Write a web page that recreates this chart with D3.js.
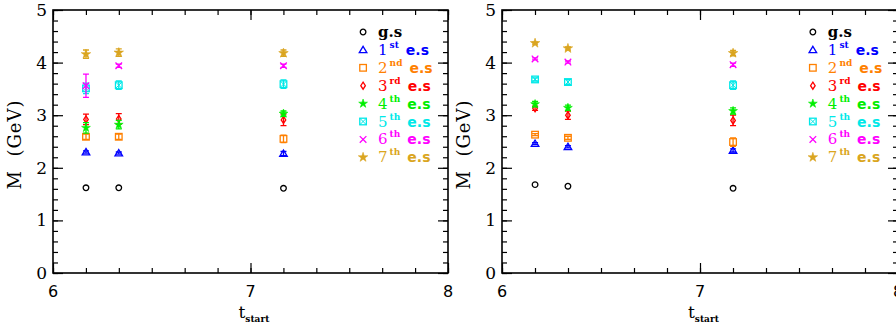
<!DOCTYPE html>
<html>
<head>
<meta charset="utf-8">
<script src="https://cdn.jsdelivr.net/npm/d3@7"></script>
<style>
  html, body { margin: 0; padding: 0; background: #fff; }
  svg { display: block; }
</style>
</head>
<body>
<svg id="chart" width="896" height="329"></svg>
<script>
// Starting time slices of the fits
const tStart = [6.167, 6.333, 7.167];

// State labels (ordinal part, superscript) and colours
const stateNum = ["g.s", "1", "2", "3", "4", "5", "6", "7"];
const stateSup = ["", "st", "nd", "rd", "th", "th", "th", "th"];
const stateColor = ["#000000", "#0000ff", "#ff8000", "#ff0000", "#00ee00", "#00e8e8", "#ff00ff", "#daa520"];

// Left panel: fitted masses (GeV), one row per state, one column per t_start
const massLeft = [
  [1.62, 1.62, 1.61],
  [2.30, 2.28, 2.27],
  [2.59, 2.59, 2.55],
  [2.92, 2.93, 2.91],
  [2.76, 2.82, 3.03],
  [3.51, 3.57, 3.59],
  [3.56, 3.94, 3.94],
  [4.16, 4.19, 4.18]
];
const errLeft = [
  [0.01, 0.01, 0.01],
  [0.02, 0.02, 0.04],
  [0.05, 0.05, 0.07],
  [0.10, 0.10, 0.11],
  [0.10, 0.08, 0.05],
  [0.10, 0.08, 0.08],
  [0.22, 0.03, 0.03],
  [0.08, 0.07, 0.06]
];

// Right panel
const massRight = [
  [1.68, 1.65, 1.61],
  [2.46, 2.40, 2.33],
  [2.63, 2.57, 2.49],
  [3.13, 3.00, 2.90],
  [3.21, 3.14, 3.08],
  [3.68, 3.63, 3.57],
  [4.07, 4.01, 3.96],
  [4.37, 4.27, 4.18]
];
const errRight = [
  [0.01, 0.01, 0.01],
  [0.02, 0.02, 0.03],
  [0.02, 0.03, 0.08],
  [0.04, 0.08, 0.10],
  [0.05, 0.05, 0.06],
  [0.03, 0.05, 0.08],
  [0.02, 0.02, 0.03],
  [0.02, 0.03, 0.05]
];

// Axis ticks
const xMajor = [6, 7, 8];
const xMinor = d3.range(0, 13).map(i => 6 + i / 6);
const yMajor = [0, 1, 2, 3, 4, 5];
const yMinor = d3.range(0, 26).map(i => i * 0.2);

const svg = d3.select("#chart");

// Marker shapes, one per state
function drawMarker(g, k, color) {
  const s = g.append("g");
  const sw = 1.3;
  switch (k) {
    case 0:
      s.append("circle").attr("r", 2.8).attr("fill", "none").attr("stroke", color).attr("stroke-width", sw);
      break;
    case 1:
      s.append("path").attr("d", "M0,-3.6L3.8,2.8L-3.8,2.8Z").attr("fill", "none").attr("stroke", color).attr("stroke-width", sw);
      break;
    case 2:
      s.append("rect").attr("x", -3.3).attr("y", -3.3).attr("width", 6.6).attr("height", 6.6)
        .attr("fill", "none").attr("stroke", color).attr("stroke-width", sw);
      break;
    case 3:
      s.append("path").attr("d", "M0,-3.5L2.3,0L0,3.5L-2.3,0Z").attr("fill", "none").attr("stroke", color).attr("stroke-width", sw);
      break;
    case 4:
      s.append("path").attr("d", d3.symbol(d3.symbolStar, 24)()).attr("fill", color).attr("stroke", color).attr("stroke-width", 0.6);
      break;
    case 5:
      s.append("rect").attr("x", -3.3).attr("y", -3.3).attr("width", 6.6).attr("height", 6.6)
        .attr("fill", "none").attr("stroke", color).attr("stroke-width", sw);
      s.append("path").attr("d", "M-3.3,-3.3L3.3,3.3M-3.3,3.3L3.3,-3.3").attr("stroke", color).attr("stroke-width", 1);
      break;
    case 6:
      s.append("path").attr("d", "M-3.3,-3.3L3.3,3.3M-3.3,3.3L3.3,-3.3").attr("stroke", color).attr("stroke-width", sw);
      break;
    case 7:
      s.append("path").attr("d", d3.symbol(d3.symbolStar, 28)()).attr("fill", color).attr("stroke", color).attr("stroke-width", 0.6);
      break;
  }
  return s;
}

function drawPanel(x0, x1, mass, err) {
  const top = 10, bottom = 273;
  const x = d3.scaleLinear().domain([6, 8]).range([x0, x1]);
  const y = d3.scaleLinear().domain([0, 5]).range([bottom, top]);
  const g = svg.append("g");

  const tickStyle = sel => {
    sel.select(".domain").remove();
    sel.selectAll(".tick line").attr("stroke", "#000").attr("stroke-width", 1.2);
  };

  // minor ticks, all four sides, pointing inward
  g.append("g").attr("transform", `translate(0,${bottom})`)
    .call(d3.axisBottom(x).tickValues(xMinor).tickSize(-5).tickFormat("")).call(tickStyle);
  g.append("g").attr("transform", `translate(0,${top})`)
    .call(d3.axisTop(x).tickValues(xMinor).tickSize(-5).tickFormat("")).call(tickStyle);
  g.append("g").attr("transform", `translate(${x0},0)`)
    .call(d3.axisLeft(y).tickValues(yMinor).tickSize(-5).tickFormat("")).call(tickStyle);
  g.append("g").attr("transform", `translate(${x1},0)`)
    .call(d3.axisRight(y).tickValues(yMinor).tickSize(-5).tickFormat("")).call(tickStyle);

  // major ticks
  g.append("g").attr("transform", `translate(0,${bottom})`)
    .call(d3.axisBottom(x).tickValues(xMajor).tickSize(-10).tickFormat("")).call(tickStyle);
  g.append("g").attr("transform", `translate(0,${top})`)
    .call(d3.axisTop(x).tickValues(xMajor).tickSize(-10).tickFormat("")).call(tickStyle);
  g.append("g").attr("transform", `translate(${x0},0)`)
    .call(d3.axisLeft(y).tickValues(yMajor).tickSize(-10).tickFormat("")).call(tickStyle);
  g.append("g").attr("transform", `translate(${x1},0)`)
    .call(d3.axisRight(y).tickValues(yMajor).tickSize(-10).tickFormat("")).call(tickStyle);

  // frame
  g.append("rect").attr("x", x0).attr("y", top).attr("width", x1 - x0).attr("height", bottom - top)
    .attr("fill", "none").attr("stroke", "#000").attr("stroke-width", 1.6);

  // tick labels
  g.selectAll(".ylab").data(yMajor).enter().append("text")
    .attr("x", x0 - 6).attr("y", d => y(d) + 6)
    .attr("text-anchor", "end")
    .attr("font-family", "DejaVu Serif").attr("font-size", 17)
    .text(d => d);
  g.selectAll(".xlab").data(xMajor).enter().append("text")
    .attr("x", d => x(d)).attr("y", bottom + 24)
    .attr("text-anchor", "middle")
    .attr("font-family", "DejaVu Sans").attr("font-size", 16)
    .text(d => d);

  // axis titles
  g.append("text")
    .attr("transform", `translate(${x0 - 32},${(top + bottom) / 2 + 3}) rotate(-90)`)
    .attr("text-anchor", "middle")
    .attr("font-family", "DejaVu Serif").attr("font-size", 18)
    .attr("letter-spacing", 1)
    .style("white-space", "pre")
    .text("M  (GeV)");
  const tt = g.append("text")
    .attr("x", x(7) - 12).attr("y", bottom + 45)
    .attr("font-family", "DejaVu Serif").attr("font-size", 17);
  tt.append("tspan").text("t");
  tt.append("tspan").attr("dy", 4).attr("font-size", 9).attr("font-weight", "bold").text("start");

  // data with error bars
  mass.forEach((row, k) => {
    const color = stateColor[k];
    row.forEach((m, i) => {
      const cx = x(tStart[i]);
      const e = err[k][i];
      const p = g.append("g").attr("transform", `translate(${cx},${y(m)})`);
      if (e > 0.015) {
        const dyTop = y(m + e) - y(m), dyBot = y(m - e) - y(m);
        p.append("path")
          .attr("d", `M0,${dyTop}L0,${dyBot}M-3,${dyTop}L3,${dyTop}M-3,${dyBot}L3,${dyBot}`)
          .attr("stroke", color).attr("stroke-width", 1.3).attr("fill", "none");
      }
      drawMarker(p, k, color);
    });
  });

  // legend: marker, ordinal with superscript, "e.s"
  const lx = x(7.57), ly0 = 32, ldy = 17.9;
  stateNum.forEach((lab, k) => {
    const color = stateColor[k];
    const yy = ly0 + k * ldy;
    drawMarker(g.append("g").attr("transform", `translate(${lx},${yy})`), k, color);
    const base = yy + 5;
    if (k === 0) {
      g.append("text").attr("x", lx + 15).attr("y", base).attr("fill", color)
        .attr("font-family", "DejaVu Serif").attr("font-size", 15).attr("font-weight", "bold")
        .text(lab);
      return;
    }
    const num = g.append("text").attr("x", lx + 15).attr("y", base).attr("fill", color)
      .attr("font-family", "DejaVu Serif").attr("font-size", 15).text(lab);
    const nw = num.node().getComputedTextLength();
    const sup = g.append("text").attr("x", lx + 15 + nw + 2).attr("y", base - 7).attr("fill", color)
      .attr("font-family", "DejaVu Serif").attr("font-size", 9).attr("font-weight", "bold")
      .text(stateSup[k]);
    const sw = sup.node().getComputedTextLength();
    g.append("text").attr("x", lx + 15 + nw + sw + 9).attr("y", base).attr("fill", color)
      .attr("font-family", "DejaVu Sans").attr("font-size", 14).attr("font-weight", "bold")
      .text("e.s");
  });
}

drawPanel(53, 448, massLeft, errLeft);
drawPanel(502, 898, massRight, errRight);
</script>
</body>
</html>
